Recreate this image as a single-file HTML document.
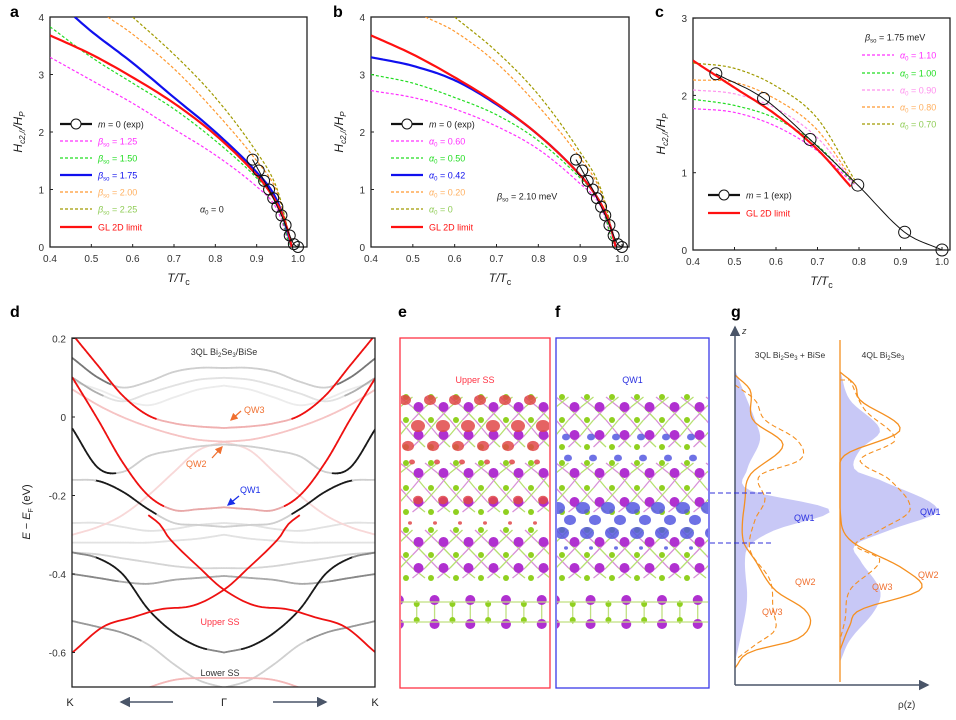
<!DOCTYPE html>
<html><head><meta charset="utf-8">
<style>
html,body{margin:0;padding:0;background:#fff;}
svg{display:block;font-family:"Liberation Sans",sans-serif;}
.tk{font-size:10px;fill:#333;}
.lg{font-size:9px;}
.pl{font-size:16px;font-weight:bold;fill:#000;}
</style></head>
<body>
<svg id="fig" width="956" height="720" viewBox="0 0 956 720" xmlns="http://www.w3.org/2000/svg">
<defs>
<clipPath id="ca"><rect x="50" y="17" width="257" height="230"/></clipPath>
<clipPath id="cb"><rect x="371" y="17" width="258" height="230"/></clipPath>
<clipPath id="cc"><rect x="693" y="18" width="257" height="232"/></clipPath>
<clipPath id="cd"><rect x="72" y="338" width="303" height="349"/></clipPath>
<clipPath id="ce"><rect x="401" y="339" width="148" height="348"/></clipPath>
<clipPath id="cf"><rect x="557" y="339" width="151" height="348"/></clipPath>
<marker id="arrO" markerWidth="6" markerHeight="6" refX="5" refY="3" orient="auto"><path d="M0,0 L6,3 L0,6 Z" fill="#f07030"/></marker>
<marker id="arrB" markerWidth="6" markerHeight="6" refX="5" refY="3" orient="auto"><path d="M0,0 L6,3 L0,6 Z" fill="#1a2ee8"/></marker>
<marker id="arrG" markerWidth="7" markerHeight="7" refX="6" refY="3.5" orient="auto"><path d="M0,0 L7,3.5 L0,7 Z" fill="#4a5568"/></marker>
</defs>
<text class="pl" x="10" y="17">a</text>
<text class="pl" x="333" y="17">b</text>
<text class="pl" x="655" y="17">c</text>
<text class="pl" x="10" y="317">d</text>
<text class="pl" x="398" y="317">e</text>
<text class="pl" x="555" y="317">f</text>
<text class="pl" x="731" y="317">g</text>
<g id="root"></g>
</svg>
<script>
// ---------- Panel a data ----------
const aExpT=[0.89,0.905,0.918,0.93,0.94,0.95,0.96,0.97,0.98,0.99,1.0];
const aExpH=[1.52,1.33,1.15,1.0,0.85,0.7,0.55,0.38,0.2,0.05,0];
const aGLT=[0.4,0.5,0.6,0.7,0.8,0.9,0.95,0.975,0.985];
const aGLH=[3.68,3.35,2.95,2.5,1.95,1.25,0.75,0.3,0];
const aB175T=[0.46,0.5,0.6,0.7,0.8,0.9,0.95,0.985];
const aB175H=[4.0,3.75,3.2,2.6,2.0,1.3,0.8,0];
const aB150T=[0.4,0.5,0.6,0.7,0.8,0.9,0.95,0.98];
const aB150H=[3.83,3.3,2.85,2.4,1.85,1.2,0.75,0];
const aB125T=[0.4,0.5,0.6,0.7,0.8,0.9,0.95,0.98];
const aB125H=[3.3,2.9,2.5,2.05,1.6,1.05,0.65,0];
const aB200T=[0.54,0.6,0.7,0.8,0.9,0.95,0.985];
const aB200H=[4.0,3.7,3.1,2.35,1.5,0.95,0];
const aB225T=[0.6,0.7,0.8,0.9,0.95,0.985];
const aB225H=[4.0,3.35,2.6,1.65,1.0,0];
// ---------- Panel b data ----------
const bA042T=[0.4,0.5,0.6,0.7,0.8,0.9,0.95,0.975,0.985];
const bA042H=[3.3,3.15,2.9,2.48,1.95,1.25,0.75,0.3,0];
const bA050T=[0.4,0.5,0.6,0.7,0.8,0.9,0.95,0.98];
const bA050H=[3.0,2.85,2.6,2.3,1.85,1.2,0.75,0];
const bA060T=[0.4,0.5,0.6,0.7,0.8,0.9,0.95,0.98];
const bA060H=[2.72,2.6,2.4,2.1,1.7,1.1,0.7,0];
const bA020T=[0.53,0.6,0.7,0.8,0.9,0.95,0.985];
const bA020H=[4.0,3.75,3.2,2.45,1.55,0.95,0];
const bA000T=[0.6,0.7,0.8,0.9,0.95,0.985];
const bA000H=[4.0,3.4,2.65,1.65,1.0,0];
// ---------- Panel c data ----------
const cExpT=[0.455,0.57,0.682,0.797,0.91,1.0];
const cExpH=[2.28,1.96,1.43,0.84,0.23,0];
const cGLT=[0.4,0.5,0.6,0.7,0.78];
const cGLH=[2.45,2.1,1.75,1.3,0.82];
const cCurveT=[0.4,0.5,0.6,0.7,0.79];
const cA070H=[2.42,2.35,2.12,1.7,0.9];
const cA080H=[2.2,2.17,1.95,1.55,0.86];
const cA090H=[2.07,2.02,1.83,1.45,0.85];
const cA100H=[1.95,1.87,1.7,1.35,0.85];
const cA110H=[1.83,1.78,1.6,1.28,0.84];
const xTicks=[0.4,0.5,0.6,0.7,0.8,0.9,1.0];
const xTickLabels=["0.4","0.5","0.6","0.7","0.8","0.9","1.0"];
const abYTicks=[0,1,2,3,4];
const cYTicks=[0,1,2,3];
// ---------- Panel d data (energies at |k| grid) ----------
const kGrid=[0,0.17,0.33,0.5,0.67,0.83,1];
const dQW3=[-0.028,-0.024,-0.016,0.004,0.055,0.13,0.21];
const dQW1=[-0.23,-0.235,-0.237,-0.20,-0.115,-0.008,0.10];
const dQW2=[-0.063,-0.058,-0.045,-0.025,0.0,0.03,0.07];
const dPinkDown=[-0.063,-0.085,-0.14,-0.2,-0.25,-0.28,-0.30];
const dG1=[0.125,0.125,0.115,0.09,0.075,0.1,0.15];
const dG2=[0.10,0.095,0.08,0.06,0.04,0.06,0.10];
const dG3=[0.08,0.07,0.05,0.03,0.045,0.07,0.09];
const dDark1=[-0.07,-0.075,-0.085,-0.1,-0.14,-0.13,-0.03];
const dDark2=[-0.28,-0.275,-0.27,-0.235,-0.19,-0.163,-0.16];
const dFlat1=[-0.27,-0.275,-0.285,-0.29,-0.28,-0.27,-0.27];
const dFlat2=[-0.30,-0.31,-0.315,-0.32,-0.32,-0.32,-0.32];
const dDark3=[-0.60,-0.585,-0.55,-0.49,-0.40,-0.36,-0.345];
const dG40=[-0.405,-0.41,-0.415,-0.425,-0.42,-0.41,-0.40];
const dG38=[-0.385,-0.385,-0.38,-0.37,-0.36,-0.35,-0.345];
const dGLow=[-0.69,-0.67,-0.63,-0.58,-0.55,-0.535,-0.52];
const dLowerSS=[-0.665,-0.665,-0.67,-0.69,-0.72,-0.75,-0.78];
const ssK=[-0.5,-0.42,-0.36,-0.16,0,0.2,0.42,0.6,0.8,1.0];
const ssE=[-0.25,-0.275,-0.31,-0.385,-0.44,-0.48,-0.49,-0.51,-0.535,-0.60];
const dYTicks=[0.2,0,-0.2,-0.4,-0.6];
const dYTickLabels=["0.2","0","-0.2","-0.4","-0.6"];
// ---------- Panel g data (z in px rows, rho in px widths) ----------
const g1Z=[370,390,420,440,470,490,510,530,545,560,600,640,662];
const g1Fill=[0,8,20,25,12,14,95,40,15,10,12,5,0];
const g1SolidZ=[375,390,420,445,475,500,540,560,590,610,625,640,652,668];
const g1Solid=[0,15,18,48,15,10,8,20,40,70,75,60,15,0];
const g1DashZ=[385,400,420,440,460,475,500,520,550,580,610,630,645,660];
const g1Dash=[0,20,30,62,65,25,30,20,15,35,38,40,20,0];
const g2Z=[370,400,430,450,470,480,510,530,545,560,590,610,640,662];
const g2Fill=[0,10,40,20,15,40,98,50,15,20,40,35,10,0];
const g2SolidZ=[372,385,400,430,455,480,510,540,570,590,610,625,650];
const g2Solid=[0,15,20,60,5,0,0,10,65,80,20,10,0];
const g2DashZ=[380,410,440,460,480,510,530,545,560,590,620,640];
const g2Dash=[10,25,55,20,50,70,40,15,40,10,5,0];

const NS="http://www.w3.org/2000/svg";
const root=document.getElementById('root');
function mk(tag,attrs,parent,txt){const e=document.createElementNS(NS,tag);for(const k in attrs)e.setAttribute(k,attrs[k]);if(txt!==undefined)e.textContent=txt;(parent||root).appendChild(e);return e;}
function hermite(xs,ys,x){
  const n=xs.length; if(x<=xs[0])return ys[0]; if(x>=xs[n-1])return ys[n-1];
  let i=0; while(i<n-2&&x>xs[i+1])i++;
  const h=xs[i+1]-xs[i], t=(x-xs[i])/h;
  const m0=i>0?(ys[i+1]-ys[i-1])/(xs[i+1]-xs[i-1]):(ys[i+1]-ys[i])/h;
  const m1=i<n-2?(ys[i+2]-ys[i])/(xs[i+2]-xs[i]):(ys[i+1]-ys[i])/h;
  const t2=t*t,t3=t2*t;
  return (2*t3-3*t2+1)*ys[i]+(t3-2*t2+t)*h*m0+(-2*t3+3*t2)*ys[i+1]+(t3-t2)*h*m1;
}
function pathD(xs,ys,sx,sy,N){N=N||60;let d="";const a=xs[0],b=xs[xs.length-1];
  for(let j=0;j<=N;j++){const x=a+(b-a)*j/N;const y=hermite(xs,ys,x);d+=(j?"L":"M")+sx(x).toFixed(1)+","+sy(y).toFixed(1);}return d;}

function htPanel(p){
  const g=mk('g',{});
  
  
  const sx=t=>p.x0+(t-0.4)/0.6*p.w, sy=h=>p.yb-h*p.k;
  const box=mk('rect',{x:p.bx,y:p.by,width:p.bw,height:p.bh,fill:'none',stroke:'#222','stroke-width':1.3},g);
  
  
  xTicks.forEach((t,i)=>{mk('line',{x1:sx(t),x2:sx(t),y1:p.yb,y2:p.yb-3,stroke:'#222'},g);
    const tl=mk('text',{x:sx(t),y:p.yb+15,'text-anchor':'middle',class:'tk'},g,xTickLabels[i]);
    
    });
  p.yt.forEach(v=>{mk('line',{x1:p.bx,x2:p.bx+3,y1:sy(v),y2:sy(v),stroke:'#222'},g);
    const tl=mk('text',{x:p.bx-6,y:sy(v)+4,'text-anchor':'end',class:'tk'},g,String(v));
    
    });
  const xl=mk('text',{x:p.bx+p.bw/2,y:p.yb+35,'text-anchor':'middle','font-size':12,'font-style':'italic',fill:'#222'},g);
  xl.innerHTML='T/T<tspan font-size="9" dy="3" font-style="normal">c</tspan>';
  
  
  const yl=mk('text',{transform:`translate(${p.bx-28},${p.by+p.bh/2}) rotate(-90)`,'text-anchor':'middle','font-size':12,'font-style':'italic',fill:'#222'},g);
  yl.innerHTML='H<tspan font-size="8" dy="3">c2,//</tspan><tspan dy="-3">/H</tspan><tspan font-size="8" dy="3">P</tspan>';
  
  
  const cg=mk('g',{'clip-path':`url(#${p.clip})`},g);
  p.series.forEach(s=>{const e=mk('path',{d:pathD(s.t,s.h,sx,sy),fill:'none',stroke:s.c,'stroke-width':s.dash?1.2:2.2,'stroke-dasharray':s.dash?'3,2':'none'},cg);
    
    });
  if(p.exp){const e=mk('path',{d:pathD(p.exp.t,p.exp.h,sx,sy),fill:'none',stroke:'#111','stroke-width':1},cg);
    
    
    p.exp.t.forEach((t,i)=>{const c=mk('circle',{cx:sx(t),cy:sy(p.exp.h[i]),r:p.exp.r,fill:'none',stroke:'#111','stroke-width':1},g);
      
      });}
  p.legend.forEach(L=>{const lg=mk('g',{},g);
    
    
    if(L.c){mk('line',{x1:L.x,x2:L.x+32,y1:L.y,y2:L.y,stroke:L.c,'stroke-width':L.dash?1.2:2.2,'stroke-dasharray':L.dash?'3,2':'none'},lg);}
    if(L.circ){mk('circle',{cx:L.x+16,cy:L.y,r:5,fill:'#fff',stroke:'#111'},lg);}
    const t=mk('text',{x:L.x+(L.c?38:0),y:L.y+3.5,class:'lg',fill:L.tc},lg);t.innerHTML=L.txt;});
}
const beta=v=>`<tspan font-style="italic">β</tspan><tspan font-size="6" dy="2">so</tspan><tspan dy="-2"> = ${v}</tspan>`;
const alp=v=>`<tspan font-style="italic">α</tspan><tspan font-size="6" dy="2">0</tspan><tspan dy="-2"> = ${v}</tspan>`;
const rows=[124,141,158,175,192,209,227];
const M='#ff30ff',G='#22dd22',B='#1010ee',O='#ff9930',OL='#a09a00',R='#ff1010';
htPanel({name:'panel-a',x0:50,w:248,yb:247,k:57.5,bx:50,by:17,bw:257,bh:230,yt:abYTicks,clip:'ca',
 series:[{t:aB125T,h:aB125H,c:M,dash:1,n:'curve-beta-1.25'},{t:aB150T,h:aB150H,c:G,dash:1,n:'curve-beta-1.50'},{t:aB200T,h:aB200H,c:O,dash:1,n:'curve-beta-2.00'},{t:aB225T,h:aB225H,c:OL,dash:1,n:'curve-beta-2.25'},{t:aB175T,h:aB175H,c:B,n:'curve-beta-1.75'},{t:aGLT,h:aGLH,c:R,n:'curve-gl-2d'}],
 exp:{t:aExpT,h:aExpH,r:5.5},
 legend:[{x:60,y:rows[0],c:'#111',circ:1,tc:'#222',txt:'<tspan font-style="italic">m</tspan> = 0 (exp)'},{x:60,y:rows[1],c:M,dash:1,tc:M,txt:beta('1.25')},{x:60,y:rows[2],c:G,dash:1,tc:G,txt:beta('1.50')},{x:60,y:rows[3],c:B,tc:B,txt:beta('1.75')},{x:60,y:rows[4],c:O,dash:1,tc:'#ffb060',txt:beta('2.00')},{x:60,y:rows[5],c:OL,dash:1,tc:'#8fcc55',txt:beta('2.25')},{x:60,y:rows[6],c:R,tc:R,txt:'GL 2D limit'},{x:200,y:rows[5],tc:'#222',txt:alp('0')}]});
htPanel({name:'panel-b',x0:371,w:251,yb:247,k:57.5,bx:371,by:17,bw:258,bh:230,yt:abYTicks,clip:'cb',
 series:[{t:bA060T,h:bA060H,c:M,dash:1,n:'curve-alpha-0.60'},{t:bA050T,h:bA050H,c:G,dash:1,n:'curve-alpha-0.50'},{t:bA020T,h:bA020H,c:O,dash:1,n:'curve-alpha-0.20'},{t:bA000T,h:bA000H,c:OL,dash:1,n:'curve-alpha-0'},{t:bA042T,h:bA042H,c:B,n:'curve-alpha-0.42'},{t:aGLT,h:aGLH,c:R,n:'curve-gl-2d'}],
 exp:{t:aExpT,h:aExpH,r:5.5},
 legend:[{x:391,y:rows[0],c:'#111',circ:1,tc:'#222',txt:'<tspan font-style="italic">m</tspan> = 0 (exp)'},{x:391,y:rows[1],c:M,dash:1,tc:M,txt:alp('0.60')},{x:391,y:rows[2],c:G,dash:1,tc:G,txt:alp('0.50')},{x:391,y:rows[3],c:B,tc:B,txt:alp('0.42')},{x:391,y:rows[4],c:O,dash:1,tc:'#ffb060',txt:alp('0.20')},{x:391,y:rows[5],c:OL,dash:1,tc:'#8fcc55',txt:alp('0')},{x:391,y:rows[6],c:R,tc:R,txt:'GL 2D limit'},{x:497,y:196,tc:'#222',txt:beta('2.10 meV')}]});
htPanel({name:'panel-c',x0:693,w:249,yb:250,k:77.3,bx:693,by:18,bw:257,bh:232,yt:cYTicks,clip:'cc',
 series:[{t:cCurveT,h:cA110H,c:M,dash:1,n:'curve-alpha-1.10'},{t:cCurveT,h:cA100H,c:G,dash:1,n:'curve-alpha-1.00'},{t:cCurveT,h:cA090H,c:'#ff90ee',dash:1,n:'curve-alpha-0.90'},{t:cCurveT,h:cA080H,c:O,dash:1,n:'curve-alpha-0.80'},{t:cCurveT,h:cA070H,c:OL,dash:1,n:'curve-alpha-0.70'},{t:cGLT,h:cGLH,c:R,n:'curve-gl-2d'}],
 exp:{t:cExpT,h:cExpH,r:6},
 legend:[{x:865,y:37,tc:'#222',txt:beta('1.75 meV')},{x:862,y:55,c:M,dash:1,tc:M,txt:alp('1.10')},{x:862,y:73,c:G,dash:1,tc:G,txt:alp('1.00')},{x:862,y:90,c:'#ff90ee',dash:1,tc:'#ff90ee',txt:alp('0.90')},{x:862,y:107,c:O,dash:1,tc:'#ffb060',txt:alp('0.80')},{x:862,y:124,c:OL,dash:1,tc:'#8fcc55',txt:alp('0.70')},{x:708,y:195,c:'#111',circ:1,tc:'#222',txt:'<tspan font-style="italic">m</tspan> = 1 (exp)'},{x:708,y:213,c:R,tc:R,txt:'GL 2D limit'}]});

// ---- Panel d ----
(function(){
 const g=mk('g',{});
 
 
 const xd=k=>224+k*151.5, yd=E=>417-E*392.5;
 const cg=mk('g',{'clip-path':'url(#cd)'},g);
 function band(E,base,strong,lo,hi,name){
  [-1,1].forEach(s=>{let N=60;
   for(let j=0;j<N;j++){const k1=j/N,k2=(j+1)/N,km=(k1+k2)/2;
    const on=km>=lo&&km<=hi;
    const e=mk('line',{x1:xd(s*k1),y1:yd(hermite(kGrid,E,k1)),x2:xd(s*k2),y2:yd(hermite(kGrid,E,k2)),stroke:on?strong:base,'stroke-width':1.8,'stroke-linecap':'round'},cg);
    
    }});
 }
 const LG='#e2e2e2',MG='#b0b0b0',PK='#f6c4c4';
 band(dG3,'#ececec','#ececec',0,0,'band-gray');
 band(dG2,LG,MG,0.8,1,'band-gray');
 band(dG1,'#cfcfcf','#777',0.75,1,'band-gray');
 band(dFlat1,LG,LG,0,0,'band-gray');
 band(dFlat2,LG,LG,0,0,'band-gray');
 band(dG38,'#d5d5d5','#d5d5d5',0,0,'band-gray');
 band(dG40,'#aaa','#888',0.7,1,'band-gray');
 band(dGLow,'#d0d0d0','#999',0.55,1,'band-gray');
 band(dPinkDown,'#f8d8d8','#f8d8d8',0,0,'band-pink');
 band(dQW2,PK,PK,0,0,'band-qw2');
 band(dLowerSS,'#f4b8b8','#f4b8b8',0,0,'band-lower-ss');
 band(dDark1,'#cfcfcf','#1a1a1a',0.72,1,'band-dark');
 band(dDark2,'#cfcfcf','#1a1a1a',0.45,0.85,'band-dark');
 band(dDark3,'#888','#1a1a1a',0.12,0.85,'band-dark');
 band(dQW1,'#e8a8a8','#ee1111',0.4,1,'band-qw1');
 band(dQW3,'#f0b0b0','#ee1111',0.45,1,'band-qw3');
 [-1,1].forEach(s=>{
  const e1=mk('path',{d:pathD(ssK,ssE,k=>xd(s*k),yd),fill:'none',stroke:'#ee1111','stroke-width':1.8},cg);
  
  
 });
 const fr=mk('rect',{x:72,y:338,width:303,height:349,fill:'none',stroke:'#222','stroke-width':1.3},g);
 
 
 dYTicks.forEach((v,i)=>{mk('line',{x1:72,x2:75,y1:yd(v),y2:yd(v),stroke:'#222'},g);
  const t=mk('text',{x:66,y:yd(v)+4,'text-anchor':'end',class:'tk'},g,dYTickLabels[i]);
  
  });
 const yl=mk('text',{transform:'translate(30,512) rotate(-90)','text-anchor':'middle','font-size':11,fill:'#222'},g);
 yl.innerHTML='<tspan font-style="italic">E</tspan> − <tspan font-style="italic">E</tspan><tspan font-size="7" dy="3">F</tspan><tspan dy="-3"> (eV)</tspan>';
 
 
 [['K',70],['Γ',224],['K',375]].forEach(a=>{const t=mk('text',{x:a[1],y:706,'text-anchor':'middle','font-size':11,fill:'#222'},g,a[0]);
  
  });
 mk('line',{x1:173,y1:702,x2:121,y2:702,stroke:'#4a5568','stroke-width':1.5,'marker-end':'url(#arrG)'},g);
 mk('line',{x1:273,y1:702,x2:326,y2:702,stroke:'#4a5568','stroke-width':1.5,'marker-end':'url(#arrG)'},g);
 const tt=mk('text',{x:224,y:355,'text-anchor':'middle','font-size':9,fill:'#333'},g);
 tt.innerHTML='3QL Bi<tspan font-size="6" dy="2">2</tspan><tspan dy="-2">Se</tspan><tspan font-size="6" dy="2">3</tspan><tspan dy="-2">/BiSe</tspan>';
 
 
 [['QW3',244,413,'#f07030'],['QW2',186,467,'#f07030'],['QW1',240,493,'#1a2ee8'],['Upper SS',220,625,'#ff3344'],['Lower SS',220,676,'#333']].forEach(a=>{
  const t=mk('text',{x:a[1],y:a[2],'font-size':9,fill:a[3],'text-anchor':a[0].length>3?'middle':'start'},g,a[0]);
  
  });
 mk('line',{x1:241,y1:411,x2:231,y2:420,stroke:'#f07030','stroke-width':1.3,'marker-end':'url(#arrO)'},g);
 mk('line',{x1:212,y1:458,x2:222,y2:447,stroke:'#f07030','stroke-width':1.3,'marker-end':'url(#arrO)'},g);
 mk('line',{x1:239,y1:496,x2:228,y2:505,stroke:'#1a2ee8','stroke-width':1.3,'marker-end':'url(#arrB)'},g);
})();

// ---- Panels e, f (crystal structure) ----
function crystal(x0,x1,clip,blobColor,blobRows,name,title,tcol,frameCol){
 const g=mk('g',{});
 
 
 const cg=mk('g',{'clip-path':`url(#${clip})`},g);
 const QL=[[397,407,420,435,447],[463,473,488,502,512],[530,542,555,568,578]];
 const sp=25;
 QL.forEach(q=>{
  for(let r=0;r<4;r++){const off=(r%2)*sp/2;
   for(let x=x0-sp;x<x1+sp;x+=sp){mk('line',{x1:x+off,y1:q[r],x2:x+off+sp/2,y2:q[r+1],stroke:r%2?'#b6e070':'#d890d8','stroke-width':1.3},cg);
    mk('line',{x1:x+off+sp/2,y1:q[r],x2:x+off,y2:q[r+1],stroke:r%2?'#d890d8':'#b6e070','stroke-width':1.3},cg);}}
  q.forEach((y,r)=>{const off=(r%2)*sp/2;
   for(let x=x0-sp;x<x1+sp;x+=sp){const big=r%2===1;
    mk('circle',{cx:x+off+6,cy:y,r:big?5:3,fill:big?'#b030d0':'#90d020'},cg);}});
 });
 [600,624].forEach((y,r)=>{for(let x=x0-sp;x<x1+sp;x+=sp/1.4){const i=Math.round((x-x0)/(sp/1.4));
   if(r===0)mk('line',{x1:x+6,y1:600,x2:x+6,y2:624,stroke:'#c0e080','stroke-width':1.3},cg);
   mk('circle',{cx:x+6,cy:y+(i%2?4:0)*(r?-1:1),r:i%2?3:5,fill:i%2?'#90d020':'#b030d0'},cg);}});
 mk('line',{x1:x0,y1:602,x2:x1,y2:602,stroke:'#c0e080','stroke-width':1.2},cg);
 mk('line',{x1:x0,y1:622,x2:x1,y2:622,stroke:'#c0e080','stroke-width':1.2},cg);
 blobRows.forEach(b=>{for(let x=x0-sp+b[2];x<x1+sp;x+=sp){mk('ellipse',{cx:x,cy:b[0],rx:b[1],ry:b[1]*0.85,fill:blobColor,opacity:0.85},cg);}});
 const fr=mk('rect',{x:x0,y:338,width:x1-x0,height:350,fill:'none',stroke:frameCol,'stroke-width':1.3},g);
 
 
 const t=mk('text',{x:(x0+x1)/2,y:383,'text-anchor':'middle','font-size':9,fill:tcol},g,title);
 
 
}
crystal(400,550,'ce','#e04848',[[400,6,5],[426,7,18],[446,6,8],[462,3,12],[500,5,18],[523,2,10]],'panel-e-upper-ss','Upper SS','#ff3344','#ff3344');
crystal(556,709,'cf','#5558e0',[[437,4,10],[458,4,12],[508,7,2],[520,6,14],[533,7,6],[548,2,10]],'panel-f-qw1','QW1','#2a30e0','#3a3ae8');

// ---- Panel g ----
(function(){
 const g=mk('g',{});
 
 
 function prof(bx,Z,W){let d=`M${bx},${Z[0]}`;const N=80,a=Z[0],b=Z[Z.length-1];
  for(let j=0;j<=N;j++){const z=a+(b-a)*j/N;d+=`L${(bx+Math.max(0,hermite(Z,W,z))).toFixed(1)},${z.toFixed(1)}`;}return d;}
 [[735,g1Z,g1Fill,g1SolidZ,g1Solid,g1DashZ,g1Dash],[840,g2Z,g2Fill,g2SolidZ,g2Solid,g2DashZ,g2Dash]].forEach((p,i)=>{
  const f=mk('path',{d:prof(p[0],p[1],p[2])+`L${p[0]},${p[1][p[1].length-1]}Z`,fill:'#c8c8f6',stroke:'none'},g);
  
  
  const s=mk('path',{d:prof(p[0],p[3],p[4]),fill:'none',stroke:'#f59020','stroke-width':1.3},g);
  
  
  const dd=mk('path',{d:prof(p[0],p[5],p[6]),fill:'none',stroke:'#f59020','stroke-width':1.1,'stroke-dasharray':'5,3'},g);
  
  
 });
 mk('line',{x1:840,y1:340,x2:840,y2:682,stroke:'#f59020','stroke-width':1.3},g);
 mk('line',{x1:735,y1:685,x2:735,y2:327,stroke:'#4a5568','stroke-width':1.5,'marker-end':'url(#arrG)'},g);
 mk('line',{x1:735,y1:685,x2:928,y2:685,stroke:'#4a5568','stroke-width':1.5,'marker-end':'url(#arrG)'},g);
 [493,543].forEach(y=>{const l=mk('line',{x1:710,y1:y,x2:772,y2:y,stroke:'#3030d8','stroke-width':1,'stroke-dasharray':'5,3'},root);
  
  });
 const z=mk('text',{x:742,y:334,'font-size':9,'font-style':'italic',fill:'#333'},g,'z');
 
 
 const r=mk('text',{x:898,y:708,'font-size':10,fill:'#333'},g,'ρ(z)');
 
 
 const t1=mk('text',{x:790,y:358,'text-anchor':'middle','font-size':8.5,fill:'#333'},g);
 t1.innerHTML='3QL Bi<tspan font-size="6" dy="2">2</tspan><tspan dy="-2">Se</tspan><tspan font-size="6" dy="2">3</tspan><tspan dy="-2"> + BiSe</tspan>';
 
 
 const t2=mk('text',{x:883,y:358,'text-anchor':'middle','font-size':8.5,fill:'#333'},g);
 t2.innerHTML='4QL Bi<tspan font-size="6" dy="2">2</tspan><tspan dy="-2">Se</tspan><tspan font-size="6" dy="2">3</tspan>';
 
 
 [['QW1',794,521,'#2a30e0'],['QW2',795,585,'#f07030'],['QW3',762,615,'#f07030'],['QW1',920,515,'#2a30e0'],['QW2',918,578,'#f07030'],['QW3',872,590,'#f07030']].forEach(a=>{
  const t=mk('text',{x:a[1],y:a[2],'font-size':9,fill:a[3]},g,a[0]);
  
  });
})();
</script>
</body></html>
